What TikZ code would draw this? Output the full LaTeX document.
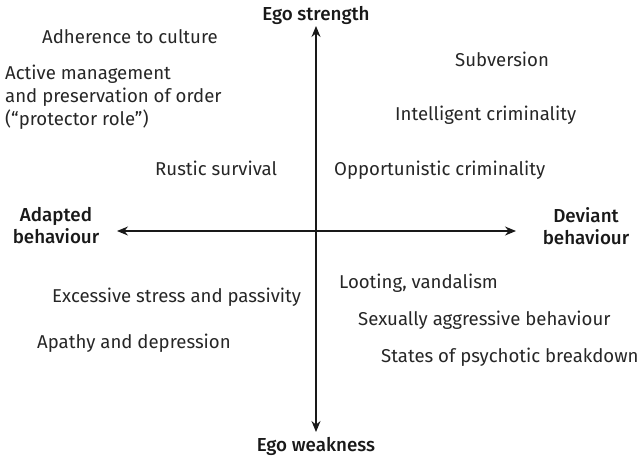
\documentclass[tikz,border=0pt]{standalone}
\usepackage{fontspec}
\setmainfont{Fira Sans}
\newfontfamily\medfont{Fira Sans Medium}
\usetikzlibrary{arrows.meta}
\begin{document}
\begin{tikzpicture}[x=1pt,y=-1pt,
  lbl/.style={inner sep=0pt,font=\fontsize{18.6}{22}\selectfont,text=black!85},
  axlbl/.style={inner sep=0pt,font=\medfont\fontsize{18.8}{23}\selectfont,align=center,text=black!90},
  axis/.style={line width=1.3pt,black!90,{Stealth[length=11pt,width=9pt]}-{Stealth[length=11pt,width=9pt]}}]
\useasboundingbox (0,0) rectangle (644,458);
\coordinate (T) at (316,26);
\coordinate (B) at (316,432);
\coordinate (L) at (117,231);
\coordinate (R) at (516,231);
\draw[axis] (B) -- (T);
\draw[axis] (L) -- (R);
\node[axlbl] (es) at (316,15) {Ego strength};
\node[axlbl] (ew) at (316,446) {Ego weakness};
\node[axlbl] (ab) at (56,226) {Adapted\\[-1pt]behaviour};
\node[axlbl] (db) at (586,226) {Deviant\\[-1pt]behaviour};
\node[lbl,anchor=west] (ac) at (42,37) {Adherence to culture};
\node[lbl,anchor=west,align=left,font=\fontsize{18.6}{23}\selectfont] (am) at (5,97) {Active management\\and preservation of order\\(“protector role”)};
\node[lbl,anchor=west] (rs) at (155,168) {Rustic survival};
\node[lbl,anchor=west] (sv) at (455,59) {Subversion};
\node[lbl,anchor=west] (ic) at (395,115) {Intelligent criminality};
\node[lbl,anchor=west] (oc) at (334,170) {Opportunistic criminality};
\node[lbl,anchor=west] (ex) at (52,297) {Excessive stress and passivity};
\node[lbl,anchor=west] (ap) at (37,343) {Apathy and depression};
\node[lbl,anchor=west] (lv) at (339,283) {Looting, vandalism};
\node[lbl,anchor=west] (sa) at (358,320) {Sexually aggressive behaviour};
\node[lbl,anchor=west] (pb) at (381,357) {States of psychotic breakdown};
\end{tikzpicture}
\end{document}
